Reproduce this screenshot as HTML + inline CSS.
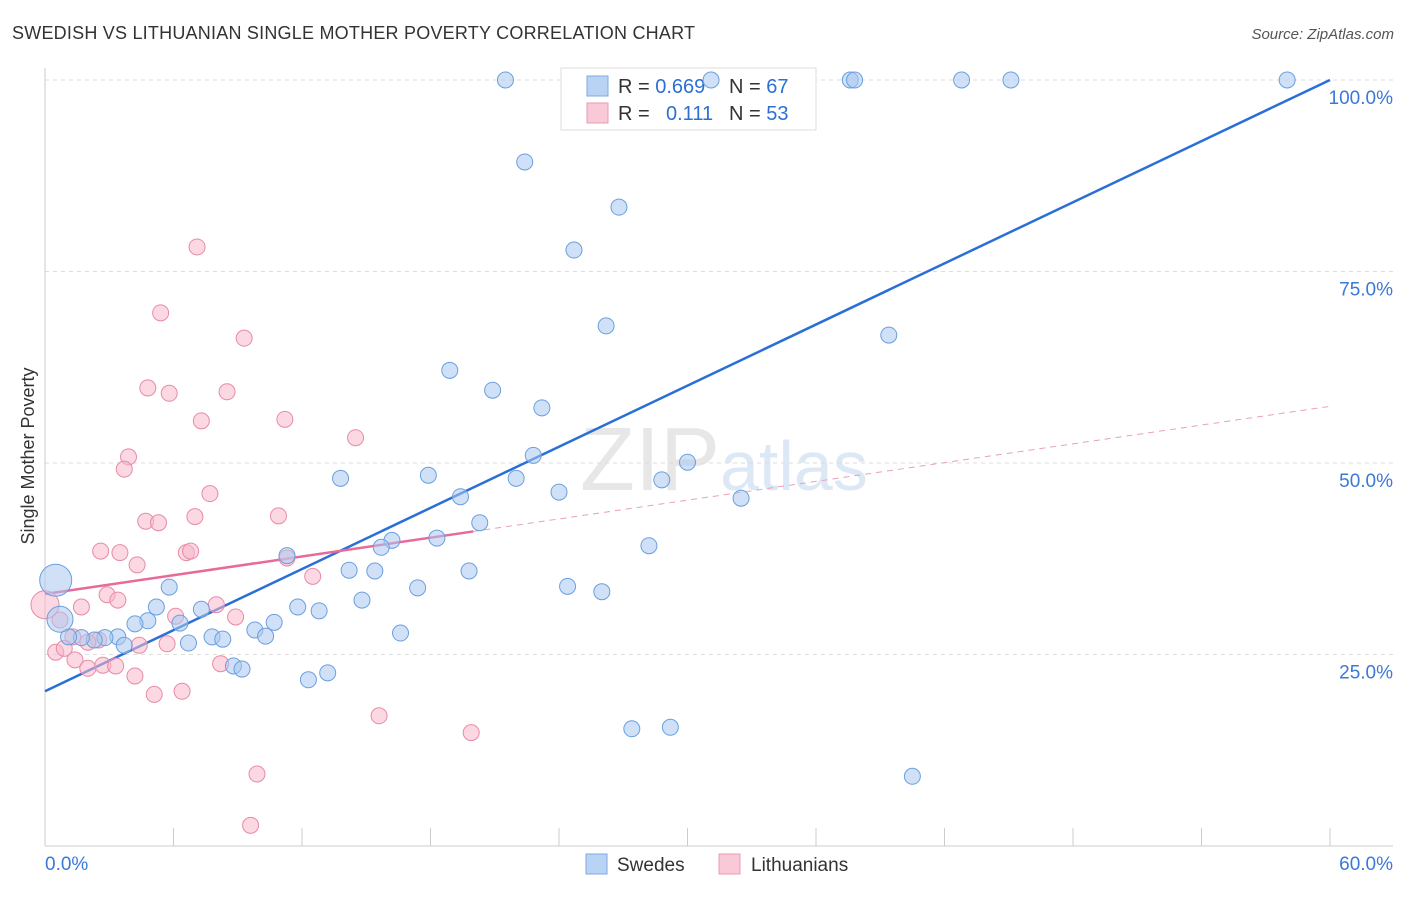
<!DOCTYPE html>
<html><head><meta charset="utf-8"><style>
body{margin:0;background:#fff;font-family:"Liberation Sans",sans-serif;}
svg text{font-family:"Liberation Sans",sans-serif;}
</style></head><body>
<svg id="chart" width="1406" height="892">
<text x="12" y="39" font-size="18" fill="#333" textLength="683">SWEDISH VS LITHUANIAN SINGLE MOTHER POVERTY CORRELATION CHART</text>
<text x="1394" y="39" font-size="15" fill="#555" font-style="italic" text-anchor="end">Source: ZipAtlas.com</text>
<text x="34" y="456" font-size="18" fill="#333" text-anchor="middle" transform="rotate(-90 34 456)">Single Mother Poverty</text>
<text x="720" y="490" font-size="90" fill="#d8d8d8" text-anchor="end" font-family="Liberation Serif" opacity="0.6">ZIP</text>
<text x="720" y="490" font-size="70" fill="#c8daf2" opacity="0.6">atlas</text>
<g id="grid"></g>
<g>
<rect x="561" y="68" width="255" height="62" fill="#fff" stroke="#ddd"/>
<rect x="587" y="76" width="21" height="20" fill="#b9d3f5" stroke="#7fa9e3"/>
<rect x="587" y="103" width="21" height="20" fill="#f9c9d7" stroke="#ea9ab4"/>
<text x="618" y="93" font-size="20" fill="#333">R = <tspan fill="#2d6fd6">0.669</tspan></text>
<text x="729" y="93" font-size="20" fill="#333">N = <tspan fill="#2d6fd6">67</tspan></text>
<text x="618" y="120" font-size="20" fill="#333">R = <tspan fill="#2d6fd6" x="666">0.111</tspan></text>
<text x="729" y="120" font-size="20" fill="#333">N = <tspan fill="#2d6fd6">53</tspan></text>
</g>
<g id="lines"></g><g id="pts"></g>
<g>
<rect x="586" y="854" width="21" height="20" fill="#b9d3f5" stroke="#7fa9e3"/>
<text x="617" y="871" font-size="19" fill="#333">Swedes</text>
<rect x="719" y="854" width="21" height="20" fill="#f9c9d7" stroke="#ea9ab4"/>
<text x="751" y="871" font-size="19" fill="#333">Lithuanians</text>
</g>
</svg>
<script>
const yTicks=[25,50,75,100];
const xTickCount=10;
const blueX=[21.5,31.1,37.6,37.8,42.8,45.1,58.0,22.4,26.8,24.7,26.2,39.4,18.9,20.9,23.2,22.8,30.0,13.8,17.9,22.0,28.8,24.0,19.4,32.5,20.3,18.3,16.2,15.7,28.2,14.2,15.4,19.8,5.8,17.4,24.4,26.0,14.8,5.2,11.8,12.8,7.3,4.8,4.2,6.3,10.7,16.6,9.8,7.8,8.3,10.3,3.4,2.8,2.3,1.7,1.1,3.7,6.7,0.5,0.7,8.8,9.2,13.2,12.3,27.4,29.2,40.5,11.3];
const blueY=[100,100,100,100,100,100,100,89.3,83.4,77.8,67.9,66.7,62.1,59.5,57.2,51.0,50.1,48.0,48.4,48.0,47.8,46.2,45.6,45.4,42.2,40.2,39.9,39.0,39.2,36.0,35.9,35.9,33.8,33.7,33.9,33.2,32.1,31.2,31.2,30.7,30.9,29.4,29.0,29.1,29.2,27.8,28.2,27.3,27.0,27.4,27.3,27.2,26.9,27.2,27.3,26.2,26.5,34.7,29.6,23.5,23.1,22.6,21.7,15.3,15.5,9.1,37.9];
const pinkX=[7.1,5.4,9.3,4.8,5.8,8.5,7.3,11.2,14.5,3.9,3.7,7.7,4.7,5.3,7.0,2.6,3.5,6.6,6.8,10.9,11.3,4.3,12.5,2.9,3.4,1.7,8.0,6.1,8.9,0.7,1.3,2.5,4.4,5.7,0.5,0.9,2.0,1.4,2.0,2.7,3.3,8.2,4.2,5.1,6.4,15.6,19.9,9.9,9.6,0.0];
const pinkY=[78.2,69.6,66.3,59.8,59.1,59.3,55.5,55.7,53.3,50.8,49.2,46.0,42.4,42.2,43.0,38.5,38.3,38.3,38.5,43.1,37.6,36.7,35.2,32.8,32.1,31.2,31.5,30.0,29.9,29.5,27.3,26.9,26.2,26.4,25.3,25.8,26.6,24.3,23.2,23.6,23.5,23.8,22.2,19.8,20.2,17.0,14.8,9.4,2.7,31.5];
const blueTrend=[20.2,100];
const pinkTrend=[32.9,57.4];
const pinkSolidEnd=20.0;
const X=v=>45+v/60*1285, Y=v=>846-v/100*766;
const NS="http://www.w3.org/2000/svg";
function mk(p,t,a){const e=document.createElementNS(NS,t);for(const k in a)e.setAttribute(k,a[k]);p.appendChild(e);return e;}
const g=document.getElementById('grid');
yTicks.forEach(t=>{
 const l=mk(g,'line',{x1:45,x2:1393,y1:Y(t),y2:Y(t),stroke:'#ddd','stroke-dasharray':'4,4'});
 
 
 const tx=mk(g,'text',{x:1393,y:Y(t)+24,'font-size':19,fill:'#3b78d8','text-anchor':'end'});tx.textContent=t.toFixed(1)+'%';
 
 
});
mk(g,'line',{x1:45,x2:45,y1:68,y2:846,stroke:'#ccc'});
mk(g,'line',{x1:45,x2:1393,y1:846,y2:846,stroke:'#ccc'});
for(let i=0;i<=xTickCount;i++){const x=X(i*60/xTickCount);const t=mk(g,'line',{x1:x,x2:x,y1:828,y2:846,stroke:'#ccc'});
 
 }
const x0=mk(g,'text',{x:45,y:870,'font-size':19,fill:'#3b78d8'});x0.textContent='0.0%';


const x1=mk(g,'text',{x:1393,y:870,'font-size':19,fill:'#3b78d8','text-anchor':'end'});x1.textContent='60.0%';


const pts=document.getElementById('pts');
function dot(x,y,r,f,s,n){const c=mk(pts,'circle',{cx:X(x),cy:Y(y),r:r,fill:f,'fill-opacity':0.55,stroke:s,'stroke-width':1});
 
 }
pinkX.forEach((x,i)=>dot(x,pinkY[i],i==pinkX.length-1?14:8,'#f7b8cb','#e88aa8','lithuanian-point'));
blueX.forEach((x,i)=>dot(x,blueY[i],i==57?16:(i==58?13:8),'#a9c8f0','#6a9fe0','swede-point'));
const ln=document.getElementById('lines');
const bl=mk(ln,'line',{x1:X(0),y1:Y(blueTrend[0]),x2:X(60),y2:Y(blueTrend[1]),stroke:'#2a6fd6','stroke-width':2.5});


const py=x=>pinkTrend[0]+(pinkTrend[1]-pinkTrend[0])*x/60;
const pl=mk(ln,'line',{x1:X(0),y1:Y(py(0)),x2:X(pinkSolidEnd),y2:Y(py(pinkSolidEnd)),stroke:'#e8699a','stroke-width':2.5});


const pd=mk(ln,'line',{x1:X(pinkSolidEnd),y1:Y(py(pinkSolidEnd)),x2:X(60),y2:Y(py(60)),stroke:'#e8a0b8','stroke-width':1,'stroke-dasharray':'6,5'});


</script>
</body></html>
